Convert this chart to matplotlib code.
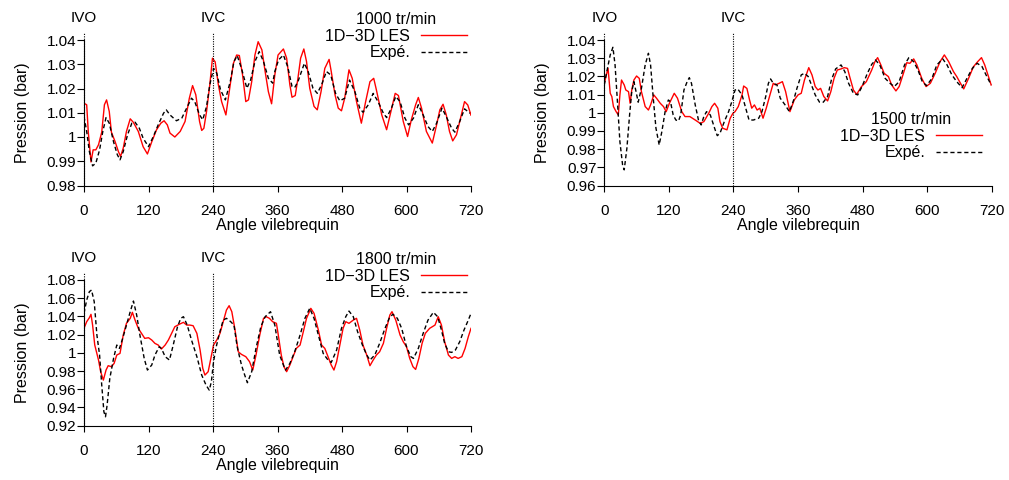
"""Intake pressure vs crank angle: 1D-3D LES against experiment at three engine speeds."""

import matplotlib
matplotlib.use("Agg")
import matplotlib.pyplot as plt

plt.rcParams["font.family"] = ["Liberation Sans", "DejaVu Sans"]

# crank angle (deg), pressure (bar)
les_1000 = [(0, 1.0139), (5, 1.0133), (8, 1.002), (13, 0.9897), (17, 0.9947), (22, 0.9947), (27, 0.9968),
            (33, 1.002), (38, 1.0133), (42, 1.0153), (47, 1.0105), (51, 1.002), (58, 0.998), (64, 0.994),
            (68, 0.992), (73, 0.9954), (79, 1.0023), (86, 1.0075), (92, 1.006), (101, 1.0023), (110, 0.996),
            (118, 0.993), (126, 0.998), (135, 1.003), (143, 1.0057), (149, 1.0067), (155, 1.005), (160, 1.0016),
            (169, 1.000), (179, 1.0023), (188, 1.0064), (196, 1.016), (202, 1.0212), (208, 1.0174), (215, 1.0064),
            (219, 1.0027), (223, 1.0036), (228, 1.0105), (234, 1.0215), (239, 1.0325), (244, 1.031), (250, 1.0215),
            (256, 1.0146), (264, 1.0091), (272, 1.0215), (278, 1.0304), (284, 1.0338), (289, 1.0336),
            (295, 1.0256), (301, 1.0146), (306, 1.0153), (312, 1.0228), (318, 1.0338), (324, 1.0393),
            (331, 1.0359), (337, 1.027), (343, 1.0187), (349, 1.0137), (355, 1.0256), (361, 1.0338),
            (371, 1.0363), (377, 1.0325), (383, 1.0215), (387, 1.0164), (393, 1.0171), (398, 1.0242),
            (403, 1.0325), (409, 1.0363), (414, 1.0311), (420, 1.0201), (428, 1.0126), (434, 1.0112),
            (441, 1.0187), (448, 1.0283), (456, 1.032), (460, 1.027), (467, 1.0174), (473, 1.0119), (479, 1.0108),
            (485, 1.016), (493, 1.0277), (499, 1.0242), (507, 1.0146), (516, 1.0057), (524, 1.0146),
            (532, 1.0228), (539, 1.0242), (544, 1.0194), (554, 1.0091), (563, 1.003), (571, 1.0105), (579, 1.018),
            (585, 1.0171), (594, 1.0064), (602, 1.0002), (609, 1.0071), (617, 1.0133), (622, 1.0163),
            (628, 1.0119), (637, 1.0023), (648, 0.9975), (656, 1.005), (662, 1.0112), (668, 1.0135),
            (674, 1.0091), (680, 1.0023), (686, 0.9984), (693, 1.0009), (702, 1.0091), (708, 1.0146),
            (714, 1.0132), (720, 1.009)]
exp_1000 = [(0, 1.0085), (5, 1.0023), (10, 0.994), (16, 0.9881), (22, 0.9892), (29, 0.9947), (35, 1.0023),
            (41, 1.008), (47, 1.0057), (55, 0.998), (62, 0.9927), (67, 0.9906), (73, 0.994), (81, 1.0009),
            (89, 1.0057), (95, 1.0061), (103, 1.0036), (110, 0.9995), (120, 0.996), (129, 1.0002), (138, 1.005),
            (148, 1.0098), (153, 1.0112), (160, 1.0091), (172, 1.0067), (182, 1.0078), (191, 1.0119), (200, 1.016),
            (206, 1.0146), (215, 1.0091), (221, 1.0071), (228, 1.0126), (234, 1.0215), (241, 1.0283),
            (247, 1.0263), (254, 1.0194), (263, 1.0153), (272, 1.0228), (279, 1.0311), (285, 1.0336),
            (293, 1.0283), (303, 1.0201), (310, 1.0235), (318, 1.0311), (326, 1.0352), (334, 1.0311),
            (343, 1.0242), (351, 1.0222), (355, 1.027), (362, 1.0318), (371, 1.0338), (379, 1.029), (387, 1.0208),
            (392, 1.0204), (398, 1.0228), (410, 1.0304), (417, 1.027), (426, 1.0201), (434, 1.018), (442, 1.0215),
            (451, 1.027), (459, 1.0256), (468, 1.018), (476, 1.0149), (485, 1.016), (494, 1.0235), (504, 1.0187),
            (513, 1.0119), (519, 1.0102), (529, 1.0133), (538, 1.018), (547, 1.0146), (557, 1.0098), (563, 1.008),
            (572, 1.0119), (580, 1.0167), (588, 1.0146), (597, 1.0078), (604, 1.005), (613, 1.0078),
            (622, 1.0133), (631, 1.0091), (640, 1.0043), (648, 1.0023), (656, 1.0057), (666, 1.0119),
            (674, 1.0084), (684, 1.0036), (690, 1.002), (699, 1.0064), (708, 1.0116), (718, 1.0098)]

les_1500 = [(0, 1.0162), (3, 1.0199), (7, 1.0244), (11, 1.0107), (14, 1.0089), (17, 1.0034), (22, 1.0006),
            (26, 0.9988), (29, 1.0098), (32, 1.018), (37, 1.0153), (40, 1.0125), (45, 1.0116), (48, 1.0052),
            (51, 1.0125), (55, 1.018), (60, 1.0202), (65, 1.0189), (69, 1.0116), (76, 1.0034), (82, 1.0015),
            (86, 1.0043), (92, 1.0098), (97, 1.008), (104, 1.0052), (110, 1.0034), (115, 1.0006), (121, 1.0052),
            (130, 1.0107), (136, 1.008), (144, 1.0006), (150, 0.9979), (159, 0.9979), (169, 0.996), (178, 0.9942),
            (185, 0.9951), (194, 0.9997), (200, 1.0034), (205, 1.0052), (211, 1.0025), (215, 0.9951),
            (220, 0.9915), (228, 0.9906), (234, 0.997), (239, 0.9997), (243, 1.0006), (249, 1.0034),
            (256, 1.0098), (259, 1.0147), (265, 1.0134), (270, 1.007), (274, 1.0025), (279, 1.0043),
            (284, 1.0015), (289, 1.0025), (295, 0.997), (301, 1.0025), (307, 1.0089), (314, 1.0162),
            (318, 1.0153), (325, 1.0162), (331, 1.0171), (337, 1.0116), (345, 1.0006), (353, 1.007),
            (360, 1.0098), (366, 1.0107), (372, 1.018), (380, 1.0248), (386, 1.0208), (392, 1.0144),
            (397, 1.0125), (402, 1.0134), (408, 1.0089), (415, 1.0065), (421, 1.0116), (427, 1.0189),
            (433, 1.0235), (440, 1.0241), (446, 1.0248), (452, 1.0244), (456, 1.0199), (463, 1.0125),
            (469, 1.0101), (478, 1.0144), (487, 1.0171), (497, 1.0235), (503, 1.0281), (508, 1.0303),
            (514, 1.0263), (520, 1.0217), (528, 1.0199), (534, 1.0153), (542, 1.012), (548, 1.0144),
            (556, 1.0217), (562, 1.0275), (568, 1.0272), (575, 1.0296), (581, 1.0263), (590, 1.0189),
            (598, 1.0144), (606, 1.0162), (615, 1.0217), (624, 1.0281), (632, 1.0318), (640, 1.0281),
            (649, 1.0226), (655, 1.0199), (662, 1.0162), (668, 1.0131), (677, 1.0189), (686, 1.0253),
            (694, 1.0281), (701, 1.0303), (707, 1.0263), (714, 1.0199), (719, 1.0153)]
exp_1500 = [(0, 1.0153), (4, 1.0217), (11, 1.0318), (16, 1.036), (20, 1.0263), (24, 1.008), (29, 0.9841),
            (34, 0.9713), (37, 0.9686), (42, 0.9805), (47, 0.9988), (51, 1.0116), (55, 1.0171), (59, 1.0116),
            (63, 1.0058), (69, 1.0134), (76, 1.0263), (82, 1.0327), (86, 1.0263), (91, 1.008), (96, 0.9915),
            (102, 0.9823), (107, 0.9897), (113, 1.0006), (119, 1.007), (123, 1.0061), (128, 0.9988),
            (133, 0.996), (138, 0.9955), (142, 0.9988), (148, 1.0125), (154, 1.0171), (158, 1.0193),
            (162, 1.0162), (169, 1.0043), (175, 0.996), (180, 0.9933), (185, 0.9979), (190, 1.0006),
            (197, 0.9988), (206, 0.9906), (210, 0.9874), (215, 0.9887), (223, 0.9951), (231, 1.0006),
            (237, 1.0061), (243, 1.0125), (248, 1.0131), (256, 1.0098), (262, 1.0034), (269, 0.996), (277, 0.996),
            (287, 0.997), (293, 1.0006), (300, 1.0089), (305, 1.0162), (309, 1.0186), (314, 1.0162),
            (321, 1.0153), (327, 1.008), (336, 1.0043), (344, 1.0006), (352, 1.007), (358, 1.0134),
            (366, 1.0208), (372, 1.0217), (379, 1.0199), (385, 1.0153), (392, 1.0098), (400, 1.0058),
            (407, 1.0058), (415, 1.0089), (422, 1.018), (430, 1.0241), (440, 1.0263), (447, 1.0226),
            (454, 1.0162), (463, 1.0107), (471, 1.0098), (479, 1.0144), (489, 1.0217), (497, 1.0266),
            (504, 1.029), (512, 1.0263), (522, 1.0189), (531, 1.0162), (539, 1.0144), (548, 1.0171),
            (558, 1.0263), (566, 1.0303), (575, 1.0281), (583, 1.0235), (591, 1.0171), (599, 1.0149),
            (609, 1.0189), (618, 1.0263), (629, 1.0296), (637, 1.0263), (646, 1.0208), (655, 1.0171),
            (665, 1.0138), (674, 1.0189), (684, 1.0244), (693, 1.0272), (702, 1.0254), (711, 1.0199),
            (719, 1.0153)]

les_1800 = [(0, 1.0269), (5, 1.0342), (10, 1.0386), (13, 1.0423), (16, 1.0305), (20, 1.0086), (27, 0.9921),
            (31, 0.9793), (36, 0.9701), (41, 0.9811), (45, 0.9859), (51, 0.9848), (56, 0.9884), (61, 0.9976),
            (67, 0.9994), (73, 1.0196), (79, 1.0324), (86, 1.0379), (90, 1.0445), (95, 1.036), (101, 1.0269),
            (107, 1.0214), (113, 1.0159), (120, 1.0166), (126, 1.0141), (132, 1.0104), (138, 1.0086),
            (144, 1.0042), (151, 1.0086), (157, 1.0141), (163, 1.0214), (169, 1.0287), (177, 1.0313),
            (185, 1.0335), (191, 1.0305), (197, 1.0305), (203, 1.0298), (210, 1.0214), (216, 1.0031),
            (221, 0.9829), (225, 0.9756), (231, 0.9793), (236, 0.9939), (241, 1.0086), (247, 1.0141),
            (253, 1.0214), (259, 1.0342), (265, 1.047), (270, 1.0518), (275, 1.0452), (281, 1.0251),
            (287, 1.0012), (293, 0.9983), (301, 0.9958), (308, 0.9903), (314, 0.9811), (320, 0.9976),
            (327, 1.0196), (334, 1.0379), (339, 1.0397), (345, 1.0379), (351, 1.0342), (358, 1.0324),
            (361, 1.0214), (367, 0.9976), (372, 0.9848), (377, 0.9793), (383, 0.9866), (389, 0.9958),
            (395, 1.0049), (402, 1.0086), (408, 1.0232), (414, 1.0379), (422, 1.0489), (428, 1.0434),
            (436, 1.0251), (442, 1.0086), (448, 1.0049), (454, 0.9958), (460, 0.9866), (465, 0.9811),
            (470, 0.9903), (476, 1.0086), (482, 1.0269), (487, 1.0342), (493, 1.0324), (501, 1.036),
            (507, 1.0379), (513, 1.0251), (519, 1.0086), (526, 0.9976), (532, 0.9859), (538, 0.9921),
            (544, 0.9976), (550, 1.0012), (557, 1.0104), (563, 1.0269), (569, 1.0415), (573, 1.0452),
            (580, 1.036), (588, 1.0196), (594, 1.0122), (600, 1.0067), (606, 0.9939), (612, 0.9848),
            (617, 0.9818), (623, 0.9939), (629, 1.0104), (635, 1.0214), (643, 1.0269), (653, 1.0305),
            (659, 1.0397), (665, 1.0305), (671, 1.0122), (678, 0.9976), (684, 0.9939), (690, 0.9958),
            (696, 0.9939), (703, 0.9958), (709, 1.0049), (715, 1.0177), (720, 1.0269)]
exp_1800 = [(0, 1.0434), (5, 1.058), (10, 1.0672), (14, 1.069), (19, 1.0562), (24, 1.0196), (29, 0.9976),
            (33, 0.9646), (37, 0.9353), (40, 0.9298), (43, 0.9426), (48, 0.9719), (55, 0.9939), (61, 1.0086),
            (66, 1.0049), (72, 1.0159), (79, 1.0305), (86, 1.0452), (92, 1.0569), (98, 1.0415), (104, 1.0196),
            (112, 0.9939), (118, 0.9811), (126, 0.9866), (132, 0.9976), (140, 1.0067), (144, 1.0049),
            (151, 0.9958), (159, 0.9921), (166, 1.0086), (174, 1.0287), (180, 1.0379), (185, 1.0397),
            (192, 1.0305), (200, 1.0141), (210, 0.9958), (219, 0.9756), (227, 0.9646), (233, 0.9591),
            (237, 0.9683), (241, 0.9903), (246, 1.0067), (252, 1.0214), (259, 1.036), (265, 1.0379),
            (273, 1.0342), (279, 1.0305), (285, 1.0067), (293, 0.9866), (299, 0.9756), (304, 0.9672),
            (312, 0.9793), (320, 1.0049), (329, 1.0287), (337, 1.0397), (347, 1.0452), (355, 1.0305),
            (364, 0.9976), (371, 0.9866), (375, 0.9811), (383, 0.9884), (392, 1.0012), (402, 1.0196),
            (411, 1.0379), (420, 1.0489), (428, 1.0379), (436, 1.0196), (445, 0.9994), (454, 0.9921),
            (460, 0.9895), (470, 1.0031), (479, 1.0269), (487, 1.0397), (493, 1.0459), (501, 1.0397),
            (509, 1.0232), (518, 1.0086), (526, 0.9976), (532, 0.9921), (541, 0.9976), (550, 1.0104),
            (560, 1.0269), (569, 1.0397), (575, 1.0423), (583, 1.0379), (591, 1.0269), (600, 1.0067),
            (608, 0.9958), (613, 0.9939), (622, 1.0049), (631, 1.0214), (640, 1.036), (650, 1.0445),
            (658, 1.0397), (665, 1.0251), (671, 1.0104), (678, 1.0012), (684, 1.0005), (691, 1.0031),
            (699, 1.0122), (707, 1.0251), (715, 1.036), (720, 1.0434)]

speeds = ["1000 tr/min", "1500 tr/min", "1800 tr/min"]
xticks = [0, 120, 240, 360, 480, 600, 720]
valve_angles = [0, 240]
valve_labels = ["IVO", "IVC"]
yticks_1000 = [0.98, 0.99, 1.00, 1.01, 1.02, 1.03, 1.04]
ylabels_1000 = ["0.98", "0.99", "1", "1.01", "1.02", "1.03", "1.04"]
yticks_1500 = [0.96, 0.97, 0.98, 0.99, 1.00, 1.01, 1.02, 1.03, 1.04]
ylabels_1500 = ["0.96", "0.97", "0.98", "0.99", "1", "1.01", "1.02", "1.03", "1.04"]
yticks_1800 = [0.92, 0.94, 0.96, 0.98, 1.00, 1.02, 1.04, 1.06, 1.08]
ylabels_1800 = ["0.92", "0.94", "0.96", "0.98", "1", "1.02", "1.04", "1.06", "1.08"]

W, H = 1009, 480


def panel(fig, rect, les, exp, yticks, ylabels, title, leg_xy):
    ax = fig.add_axes(rect)
    ax.plot([a for a, _ in les], [p for _, p in les], color="#ff0000", lw=1.0, label="1D\u22123D LES")
    ax.plot([a for a, _ in exp], [p for _, p in exp], color="black", lw=1.0, dashes=(3, 2), label="Exp\u00e9.")
    ax.set_xlim(0, 720)
    ax.set_ylim(yticks[0], yticks[-1])
    ax.set_xticks(xticks)
    ax.set_yticks(yticks)
    ax.set_yticklabels(ylabels)
    for s in ("top", "right"):
        ax.spines[s].set_visible(False)
    ax.tick_params(axis="x", direction="out", length=4.3, width=0.8, pad=9.0, labelsize=11)
    ax.tick_params(axis="y", direction="out", length=4.7, width=0.8, pad=1.0, labelsize=11)
    ax.set_xlabel("Angle vilebrequin", fontsize=11.5, labelpad=0)
    ax.set_ylabel("Pression (bar)", fontsize=11.5, labelpad=12)

    tr = ax.get_xaxis_transform()
    for xv, lab in zip(valve_angles, valve_labels):
        ax.plot([xv, xv], [0, 1.048], transform=tr, color="black", lw=0.8,
                linestyle=(0, (1, 1.2)), clip_on=False)
        ax.text(xv, 1.15, lab, transform=tr, ha="center", va="center", fontsize=11)

    ax.legend(title=title, loc="upper right", bbox_to_anchor=(leg_xy[0] / W, 1 - leg_xy[1] / H),
              bbox_transform=fig.transFigure, frameon=False, markerfirst=False, fontsize=11.5,
              title_fontsize=11.5, handlelength=2.9, handletextpad=0.65, labelspacing=0.1,
              borderpad=0, borderaxespad=0)
    return ax


def main():
    fig = plt.figure(figsize=(W / 100, H / 100), dpi=100)
    panel(fig, [84 / W, 1 - 185.5 / H, 387 / W, 145.5 / H], les_1000, exp_1000,
          yticks_1000, ylabels_1000, speeds[0], (467, 12))
    panel(fig, [604.3 / W, 1 - 185.5 / H, 387.4 / W, 145.5 / H], les_1500, exp_1500,
          yticks_1500, ylabels_1500, speeds[1], (982, 112))
    panel(fig, [84 / W, 1 - 425.7 / H, 387 / W, 145.7 / H], les_1800, exp_1800,
          yticks_1800, ylabels_1800, speeds[2], (467, 252))
    fig.savefig("out.png", dpi=100)


if __name__ == "__main__":
    main()
